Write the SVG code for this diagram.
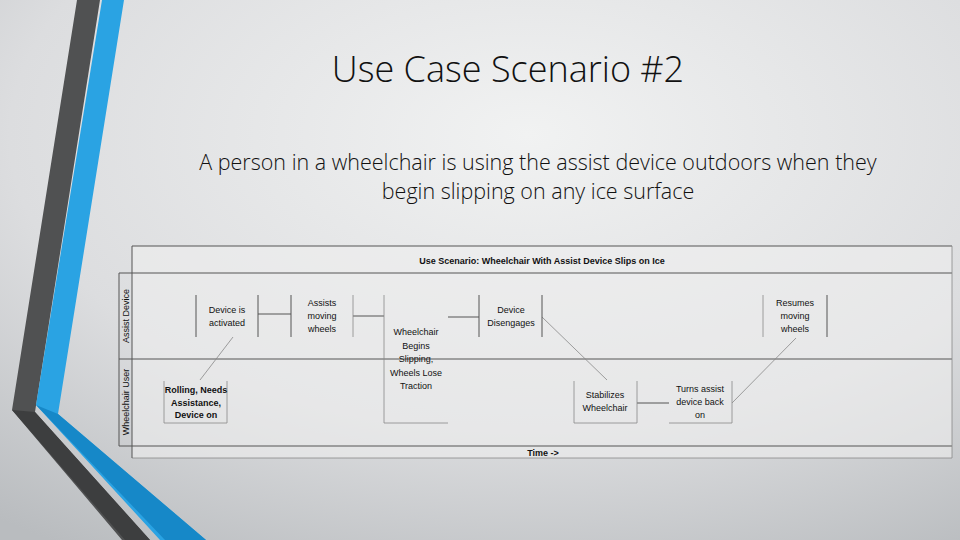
<svg xmlns="http://www.w3.org/2000/svg" width="960" height="540" viewBox="0 0 960 540">
<defs>
<radialGradient id="bg" cx="0.55" cy="0.25" r="0.9">
<stop offset="0" stop-color="#f1f2f2"/><stop offset="0.6" stop-color="#dcdddf"/><stop offset="1" stop-color="#b9bcbf"/>
</radialGradient>
<style>
.ln{stroke:#555;stroke-width:1;fill:none}
.th{stroke:#888;stroke-width:0.8;fill:none}
.t{font-family:"Liberation Sans",Arial,sans-serif;font-size:9px;fill:#111;text-anchor:middle}
.b{font-weight:bold}
</style>
</defs>
<rect width="960" height="540" fill="url(#bg)"/>
<g id="decor">
<polygon points="77,0 100,0 35,412 150,540 122,540 12,410" fill="#505152"/>
<polygon points="102,0 124,0 58,414 206,540 160,540 36,405" fill="#2aa3e3"/>
<polygon points="36,405 58,414 206,540 165,540" fill="#1688c8"/>
<polygon points="12,410 35,412 150,540 125,540" fill="#3d3e3f"/>
</g>
<text x="508" y="82" font-family="Open Sans,sans-serif" font-size="36" fill="#111" text-anchor="middle" font-weight="300">Use Case Scenario #2</text>
<text font-family="Open Sans,sans-serif" font-size="21.5" fill="#111" text-anchor="middle" font-weight="300"><tspan x="538" y="170">A person in a wheelchair is using the assist device outdoors when they</tspan><tspan x="538" y="199">begin slipping on any ice surface</tspan></text>
<g id="frame">
<rect x="132" y="246" width="820" height="212" fill="#eeefef" opacity="0.6"/>
<line class="ln" x1="132" y1="246" x2="952" y2="246"/>
<line class="ln" x1="119" y1="273" x2="952" y2="273"/>
<line class="ln" x1="119" y1="359" x2="952" y2="359"/>
<line class="ln" x1="119" y1="446" x2="952" y2="446"/>
<line class="th" x1="132" y1="458" x2="952" y2="458"/>
<line class="th" x1="952" y1="246" x2="952" y2="458"/>
<line class="ln" x1="119" y1="273" x2="119" y2="446"/>
<line class="ln" x1="132" y1="246" x2="132" y2="458"/>
<text class="t b" x="542" y="264">Use Scenario: Wheelchair With Assist Device Slips on Ice</text>
<text class="t" x="0" y="0" transform="translate(129,316) rotate(-90)" font-size="10">Assist Device</text>
<text class="t" x="0" y="0" transform="translate(129,402) rotate(-90)" font-size="10">Wheelchair User</text>
<text class="t b" x="543" y="456">Time -&gt;</text>
</g>
<g id="connectors">
<line class="ln" x1="258" y1="314" x2="291" y2="314"/>
<line class="ln" x1="353" y1="316" x2="384" y2="316"/>
<line class="ln" x1="448" y1="317" x2="479" y2="317"/>
<line class="ln" x1="637" y1="403" x2="669" y2="403"/>
<line class="th" x1="233" y1="337" x2="200" y2="380"/>
<line class="th" x1="542" y1="317" x2="607" y2="380"/>
<line class="th" x1="732" y1="403" x2="796" y2="338"/>
</g>
<g id="n1"><line class="ln" x1="196" y1="295" x2="196" y2="337"/><line class="ln" x1="258" y1="295" x2="258" y2="337"/>
<text class="t"><tspan x="227" y="313">Device is</tspan><tspan x="227" y="326">activated</tspan></text></g>
<g id="n2"><line class="ln" x1="291" y1="295" x2="291" y2="337"/><line class="th" x1="353" y1="295" x2="353" y2="337"/>
<text class="t"><tspan x="322" y="306">Assists</tspan><tspan x="322" y="319">moving</tspan><tspan x="322" y="332">wheels</tspan></text></g>
<g id="n3"><line class="th" x1="384" y1="295" x2="384" y2="423"/><line class="th" x1="384" y1="423" x2="448" y2="423"/>
<text class="t"><tspan x="416" y="335">Wheelchair</tspan><tspan x="416" y="349">Begins</tspan><tspan x="416" y="362">Slipping,</tspan><tspan x="416" y="376">Wheels Lose</tspan><tspan x="416" y="389">Traction</tspan></text></g>
<g id="n4"><line class="ln" x1="479" y1="295" x2="479" y2="337"/><line class="ln" x1="542" y1="295" x2="542" y2="337"/>
<text class="t"><tspan x="511" y="313">Device</tspan><tspan x="511" y="326">Disengages</tspan></text></g>
<g id="n5"><line class="th" x1="763" y1="295" x2="763" y2="337"/><line class="ln" x1="827" y1="295" x2="827" y2="337"/>
<text class="t"><tspan x="795" y="306">Resumes</tspan><tspan x="795" y="319">moving</tspan><tspan x="795" y="332">wheels</tspan></text></g>
<g id="n6"><path class="th" d="M164,381 V423 H227 V381"/>
<text class="t b"><tspan x="196" y="393">Rolling, Needs</tspan><tspan x="196" y="406">Assistance,</tspan><tspan x="196" y="418">Device on</tspan></text></g>
<g id="n7"><path class="th" d="M574,381 V423 H637 V381"/>
<text class="t"><tspan x="605" y="398">Stabilizes</tspan><tspan x="605" y="411">Wheelchair</tspan></text></g>
<g id="n8"><path class="th" d="M669,423 H732 V381"/>
<text class="t"><tspan x="700" y="392">Turns assist</tspan><tspan x="700" y="405">device back</tspan><tspan x="700" y="418">on</tspan></text></g>
</svg>
